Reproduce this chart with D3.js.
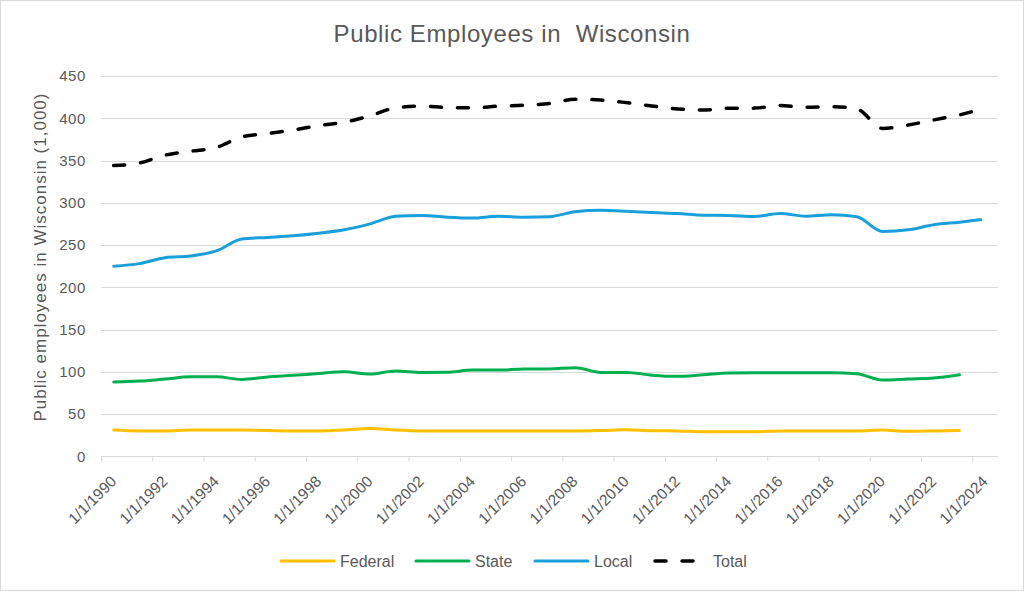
<!DOCTYPE html>
<html>
<head>
<meta charset="utf-8">
<script src="https://cdn.jsdelivr.net/npm/d3@7"></script>
<style>
  html, body { margin: 0; padding: 0; background: #fff; }
  svg { display: block; }
</style>
</head>
<body>
<svg id="chart" width="1024" height="591"></svg>
<script>
// ---- Data (thousands of employees) ----
const years = [1990,1991,1992,1993,1994,1995,1996,1997,1998,1999,
               2000,2001,2002,2003,2004,2005,2006,2007,2008,2009,
               2010,2011,2012,2013,2014,2015,2016,2017,2018,2019,
               2020,2021,2022,2023,2024];
const federal = [31,30,30,31,31,31,30.5,30,30,31,
                 33,31,30,30,30,30,30,30,30,30.5,
                 31.5,30.3,30,29,29,29,30,30,30,30,
                 31,29.5,30,30.5];
const state = [88,89,91.4,94,94,91,93.8,95.8,98,100,
               97.3,101,99.3,99.5,102,102,103.2,103.4,104.8,99.3,
               99.3,96,94.6,96.5,98.5,98.9,98.9,98.9,98.9,97.7,
               90.2,91.4,92.6,96.5];
const local = [225,228,235,237,243,257,259,261,264,268,
               275,284,285,283,282,284,283,283.5,289.3,291,
               290,288.5,287.3,285.3,285,283.8,287.3,284,285.7,283.4,
               266,268,274,277,280];
const total = [344,347,356.3,361,365.4,378,382,386,391.4,395.4,
               402.8,412.3,414.3,412.7,412.3,414.3,415.4,417.4,422.5,421.6,
               418.5,414.5,411,409.8,411.8,412,415,413,413.7,411,
               388,392,398,404,410.6];
const yTicks = [0,50,100,150,200,250,300,350,400,450];
const xTickYears = d3.range(1990, 2025, 2);
const seriesNames = ["Federal","State","Local","Total"];
const seriesColors = ["#FFC000","#00B050","#1A9FDB","#000000"];

// observation dates (mid-year; last observation is a partial year)
const dates = years.map(y => y === 2024 ? new Date(2024, 4, 1) : new Date(y, 6, 1));

const svg = d3.select("#chart");
const W = 1024, H = 591;
const textColor = "#595959";
const gridColor = "#d9d9d9";
const FONT = "'Liberation Sans', Arial, sans-serif";

svg.append("rect").attr("x",0.5).attr("y",0.5).attr("width",W-1).attr("height",H-1)
   .attr("fill","#fff").attr("stroke","#d9d9d9");

const x = d3.scaleTime()
  .domain([new Date(1990,0,1), new Date(2025,0,1)])
  .range([101, 998]);
const y = d3.scaleLinear().domain([0,450]).range([456.3, 76]);

// gridlines
svg.append("g").selectAll("line").data(yTicks.filter(v => v > 0)).join("line")
  .attr("x1", x.range()[0]).attr("x2", x.range()[1])
  .attr("y1", d => Math.round(y(d)) + 0.5).attr("y2", d => Math.round(y(d)) + 0.5)
  .attr("stroke", gridColor).attr("stroke-width", 1);

// y axis labels
const yAxis = d3.axisLeft(y).tickValues(yTicks).tickSize(0).tickPadding(0);
const gy = svg.append("g").attr("transform","translate(86,0)").call(yAxis);
gy.select(".domain").remove();
gy.selectAll("text").attr("fill", textColor)
  .style("font-family", FONT).style("font-size","15px").style("letter-spacing","0.6px");

// x axis
const xAxis = d3.axisBottom(x)
  .tickValues(xTickYears.map(yr => new Date(yr,0,1)))
  .tickSize(5).tickFormat(d => "1/1/" + d.getFullYear());
const gx = svg.append("g").attr("transform", `translate(0,${Math.round(y(0))+0.5})`).call(xAxis);
gx.select(".domain").attr("stroke", gridColor).attr("d", `M${x.range()[0]},0H${x.range()[1]}`);
gx.selectAll(".tick line").attr("stroke", gridColor);
gx.selectAll("text")
  .attr("fill", textColor)
  .style("font-family", FONT).style("font-size","15.5px")
  .attr("text-anchor","end")
  .attr("dy", "0.35em")
  .attr("y", 0)
  .attr("transform", "translate(12,22) rotate(-45)");

// lines
const seriesData = [federal, state, local, total];
const line = d3.line()
  .x((d,i) => x(dates[i]))
  .y(d => y(d))
  .curve(d3.curveMonotoneX);

seriesData.forEach((vals, k) => {
  const p = svg.append("path")
    .datum(vals)
    .attr("d", line)
    .attr("fill","none")
    .attr("stroke", seriesColors[k])
    .attr("stroke-width", 3)
    .attr("stroke-linecap","round")
    .attr("stroke-linejoin","round");
  if (seriesNames[k] === "Total") p.attr("stroke-dasharray","11,16").attr("stroke-width",3.5);
});

// title
svg.append("text").attr("x", 512).attr("y", 42).attr("text-anchor","middle")
  .attr("fill", textColor)
  .style("font-family", FONT).style("font-size","24px").style("letter-spacing","0.6px")
  .style("white-space","pre")
  .text("Public Employees in  Wisconsin");

// y-axis title
svg.append("text")
  .attr("transform","translate(40,257) rotate(-90)")
  .attr("text-anchor","middle").attr("dy","0.35em")
  .attr("fill", textColor)
  .style("font-family", FONT).style("font-size","17px").style("letter-spacing","1px")
  .text("Public employees in Wisconsin (1,000)");

// legend
const legendX = [281, 416, 535, 655];
const lg = svg.append("g");
seriesNames.forEach((name, k) => {
  const g = lg.append("g").attr("transform", `translate(${legendX[k]},561)`);
  const ln = g.append("line").attr("x1", 0).attr("x2", 53).attr("y1",0).attr("y2",0)
    .attr("stroke", seriesColors[k]).attr("stroke-width", 3).attr("stroke-linecap","round");
  if (name === "Total") ln.attr("x2", 43).attr("stroke-dasharray","11,16").attr("stroke-width",3.5);
  g.append("text").attr("x", name === "Total" ? 58 : 59).attr("y", 0).attr("dy","0.35em")
    .attr("fill", textColor)
    .style("font-family", FONT).style("font-size","16px")
    .text(name);
});
</script>
</body>
</html>
